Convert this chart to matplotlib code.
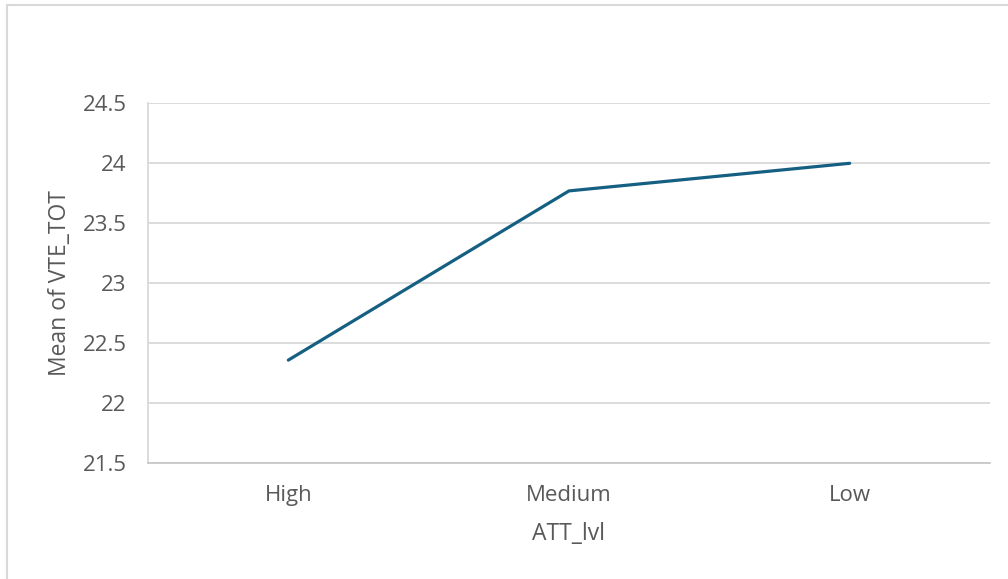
import matplotlib
matplotlib.use("Agg")
import matplotlib.pyplot as plt
from matplotlib.lines import Line2D

categories = ["High", "Medium", "Low"]
mean_vte_tot = [22.36, 23.77, 24.0]
y_ticks = [21.5, 22, 22.5, 23, 23.5, 24, 24.5]
y_tick_labels = ["21.5", "22", "22.5", "23", "23.5", "24", "24.5"]

plt.rcParams['font.family'] = ['Open Sans', 'DejaVu Sans']
text_color = '#595959'
grid_color = '#d9d9d9'

fig = plt.figure(figsize=(10.08, 5.79), dpi=100)
ax = fig.add_axes([148 / 1008, 1 - 463.3 / 579, (990 - 148) / 1008, (463.3 - 103.3) / 579])

x = list(range(len(categories)))
ax.plot(x, mean_vte_tot, color='#156082', linewidth=2.3, solid_capstyle='round', zorder=3)

ax.set_xlim(-0.5, len(categories) - 0.5)
ax.set_ylim(21.5, 24.5)
ax.set_yticks(y_ticks)
ax.set_yticklabels(y_tick_labels)
ax.set_xticks(x)
ax.set_xticklabels(categories)
ax.tick_params(axis='both', length=0, labelsize=16, labelcolor=text_color)
ax.tick_params(axis='y', pad=15.5)
ax.tick_params(axis='x', pad=15.5)

ax.yaxis.grid(True, color=grid_color, linewidth=1.3)
ax.set_axisbelow(True)
for side in ['top', 'right']:
    ax.spines[side].set_visible(False)
ax.spines['left'].set_color(grid_color)
ax.spines['left'].set_linewidth(1.3)
ax.spines['bottom'].set_color('#c8c8c8')
ax.spines['bottom'].set_linewidth(1.3)

ax.set_xlabel("ATT_lvl", fontsize=16.5, color=text_color, labelpad=12)
ax.set_ylabel("Mean of VTE_TOT", fontsize=16.5, color=text_color, labelpad=7.5)

# light chart frame (top and left edges)
fig.add_artist(Line2D([7 / 1008, 7 / 1008], [0, 1 - 5 / 579], color='#d9d9d9', linewidth=1.5))
fig.add_artist(Line2D([7 / 1008, 1], [1 - 5 / 579, 1 - 5 / 579], color='#d9d9d9', linewidth=1.5))

fig.savefig("out.png", dpi=100)
